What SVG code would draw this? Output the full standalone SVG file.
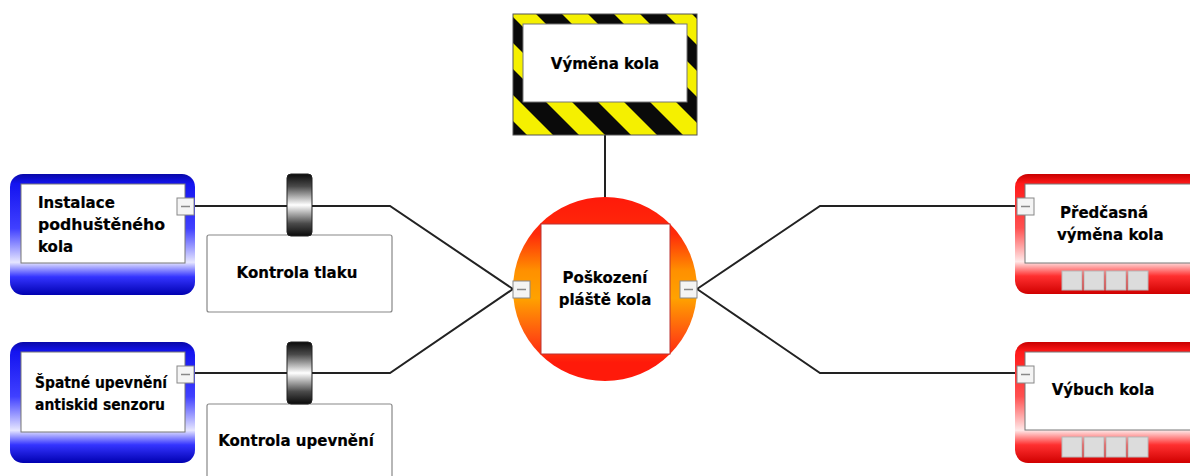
<svg xmlns="http://www.w3.org/2000/svg" width="1190" height="476" viewBox="0 0 1190 476">
  <style>
    .lbl { font-family: "DejaVu Sans", "Liberation Sans", sans-serif; font-weight: bold; font-size: 15px; fill: #000; stroke: #000; stroke-width: 0.2; }
    .mid { text-anchor: middle; }
    .conn { fill: none; stroke: #222; stroke-width: 2; }
    .inner { fill: #fff; stroke: #777; stroke-width: 1; }
    .toggle { fill: #f4f4f4; stroke: #888; stroke-width: 1; }
    .dash { stroke: #888; stroke-width: 1.5; }
    .barrier-box { fill: #fff; stroke: #888; stroke-width: 1.2; }
    .btn { fill: #dcdcdc; stroke: #b8b8b8; stroke-width: 1; }
  </style>
  <defs>
    <linearGradient id="blueFrame" x1="0" y1="0" x2="0" y2="1">
      <stop offset="0" stop-color="#0808a8"/>
      <stop offset="0.08" stop-color="#1414f0"/>
      <stop offset="0.45" stop-color="#4040ff"/>
      <stop offset="0.73" stop-color="#e6e6ff"/>
      <stop offset="0.85" stop-color="#3434ff"/>
      <stop offset="1" stop-color="#0000b0"/>
    </linearGradient>
    <linearGradient id="redFrame" x1="0" y1="0" x2="0" y2="1">
      <stop offset="0" stop-color="#c80000"/>
      <stop offset="0.08" stop-color="#ff1a1a"/>
      <stop offset="0.45" stop-color="#ff5050"/>
      <stop offset="0.73" stop-color="#ffe8e8"/>
      <stop offset="0.85" stop-color="#ff3030"/>
      <stop offset="1" stop-color="#d00000"/>
    </linearGradient>
    <linearGradient id="eventFill" x1="0" y1="0" x2="0" y2="1">
      <stop offset="0" stop-color="#ff1a0a"/>
      <stop offset="0.2" stop-color="#ff2a0a"/>
      <stop offset="0.4" stop-color="#ff9000"/>
      <stop offset="0.55" stop-color="#ffa200"/>
      <stop offset="0.76" stop-color="#ff5010"/>
      <stop offset="0.9" stop-color="#ff1a0a"/>
    </linearGradient>
    <linearGradient id="barrierFill" x1="0" y1="0" x2="0" y2="1">
      <stop offset="0" stop-color="#0a0a0a"/>
      <stop offset="0.2" stop-color="#4a4a4a"/>
      <stop offset="0.5" stop-color="#ffffff"/>
      <stop offset="0.8" stop-color="#4a4a4a"/>
      <stop offset="1" stop-color="#0a0a0a"/>
    </linearGradient>
    <!-- diagonal yellow/black warning stripes, 52px horizontal period -->
    <pattern id="hazard" x="2" y="0" width="52" height="52" patternUnits="userSpaceOnUse">
      <rect width="52" height="52" fill="#f5f000"/>
      <polygon points="0,0 26,0 52,26 52,52" fill="#0a0a0a"/>
      <polygon points="0,26 26,52 0,52" fill="#0a0a0a"/>
    </pattern>
  </defs>

  <!-- connectors -->
  <g id="connectors">
    <line class="conn" x1="605" y1="135" x2="605" y2="198"/>
    <polyline class="conn" points="194,206 390,206 513,289"/>
    <polyline class="conn" points="194,373 390,373 513,289"/>
    <polyline class="conn" points="697,289 820,206 1017,206"/>
    <polyline class="conn" points="697,289 820,373 1017,373"/>
  </g>

  <!-- hazard: top event -->
  <g id="hazard-vymena-kola">
    <rect x="513" y="14" width="184" height="121" fill="url(#hazard)" stroke="#555" stroke-width="1"/>
    <rect x="523" y="24" width="164" height="78" class="inner"/>
    <text class="lbl mid" x="605" y="69">Výměna kola</text>
  </g>

  <!-- central event -->
  <g id="event-poskozeni">
    <circle cx="605" cy="289" r="92" fill="url(#eventFill)"/>
    <rect x="541" y="224" width="129" height="130" fill="#fff" stroke="#b33" stroke-width="1"/>
    <text class="lbl mid" x="605" y="283">Poškození</text>
    <text class="lbl mid" x="605" y="305">pláště kola</text>
    <rect class="toggle" x="513" y="281" width="17" height="17"/>
    <line class="dash" x1="517" y1="289.5" x2="526" y2="289.5"/>
    <rect class="toggle" x="680" y="281" width="17" height="17"/>
    <line class="dash" x1="684" y1="289.5" x2="693" y2="289.5"/>
  </g>

  <!-- threats -->
  <g id="threat-instalace">
    <rect x="10" y="174" width="185" height="121" rx="13" fill="url(#blueFrame)"/>
    <rect x="21" y="184" width="164" height="79" class="inner"/>
    <text class="lbl" x="38" y="208">Instalace</text>
    <text class="lbl" x="38" y="230" textLength="127" lengthAdjust="spacingAndGlyphs">podhuštěného</text>
    <text class="lbl" x="38" y="252">kola</text>
    <rect class="toggle" x="177" y="198" width="17" height="17"/>
    <line class="dash" x1="181" y1="206.5" x2="190" y2="206.5"/>
  </g>

  <g id="threat-upevneni">
    <rect x="10" y="342" width="185" height="121" rx="13" fill="url(#blueFrame)"/>
    <rect x="21" y="352" width="164" height="80" class="inner"/>
    <text class="lbl" x="35" y="388" textLength="132" lengthAdjust="spacingAndGlyphs">Špatné upevnění</text>
    <text class="lbl" x="35" y="410" textLength="130" lengthAdjust="spacingAndGlyphs">antiskid senzoru</text>
    <rect class="toggle" x="177" y="366" width="17" height="17"/>
    <line class="dash" x1="181" y1="374.5" x2="190" y2="374.5"/>
  </g>

  <!-- barriers -->
  <g id="barrier-tlak">
    <rect class="barrier-box" x="207" y="235" width="185" height="77" rx="2"/>
    <text class="lbl mid" x="297" y="278">Kontrola tlaku</text>
    <rect x="287" y="174" width="25" height="62" rx="4" fill="url(#barrierFill)" stroke="#222" stroke-width="1"/>
  </g>

  <g id="barrier-upevneni">
    <rect class="barrier-box" x="207" y="404" width="185" height="80" rx="2"/>
    <text class="lbl mid" x="296" y="446">Kontrola upevnění</text>
    <rect x="287" y="342" width="25" height="62" rx="4" fill="url(#barrierFill)" stroke="#222" stroke-width="1"/>
  </g>

  <!-- consequences -->
  <g id="consequence-predcasna">
    <rect x="1015" y="174" width="190" height="120" rx="13" fill="url(#redFrame)"/>
    <rect x="1025" y="184" width="180" height="79" class="inner"/>
    <text class="lbl" x="1060" y="218">Předčasná</text>
    <text class="lbl" x="1057" y="240">výměna kola</text>
    <rect class="btn" x="1062" y="271" width="20" height="19"/>
    <rect class="btn" x="1084" y="271" width="20" height="19"/>
    <rect class="btn" x="1106" y="271" width="20" height="19"/>
    <rect class="btn" x="1128" y="271" width="20" height="19"/>
    <rect class="toggle" x="1017" y="198" width="17" height="17"/>
    <line class="dash" x1="1021" y1="206.5" x2="1030" y2="206.5"/>
  </g>

  <g id="consequence-vybuch">
    <rect x="1015" y="342" width="190" height="121" rx="13" fill="url(#redFrame)"/>
    <rect x="1025" y="352" width="180" height="78" class="inner"/>
    <text class="lbl mid" x="1103" y="395">Výbuch kola</text>
    <rect class="btn" x="1062" y="437" width="20" height="20"/>
    <rect class="btn" x="1084" y="437" width="20" height="20"/>
    <rect class="btn" x="1106" y="437" width="20" height="20"/>
    <rect class="btn" x="1128" y="437" width="20" height="20"/>
    <rect class="toggle" x="1017" y="366" width="17" height="17"/>
    <line class="dash" x1="1021" y1="374.5" x2="1030" y2="374.5"/>
  </g>
</svg>
